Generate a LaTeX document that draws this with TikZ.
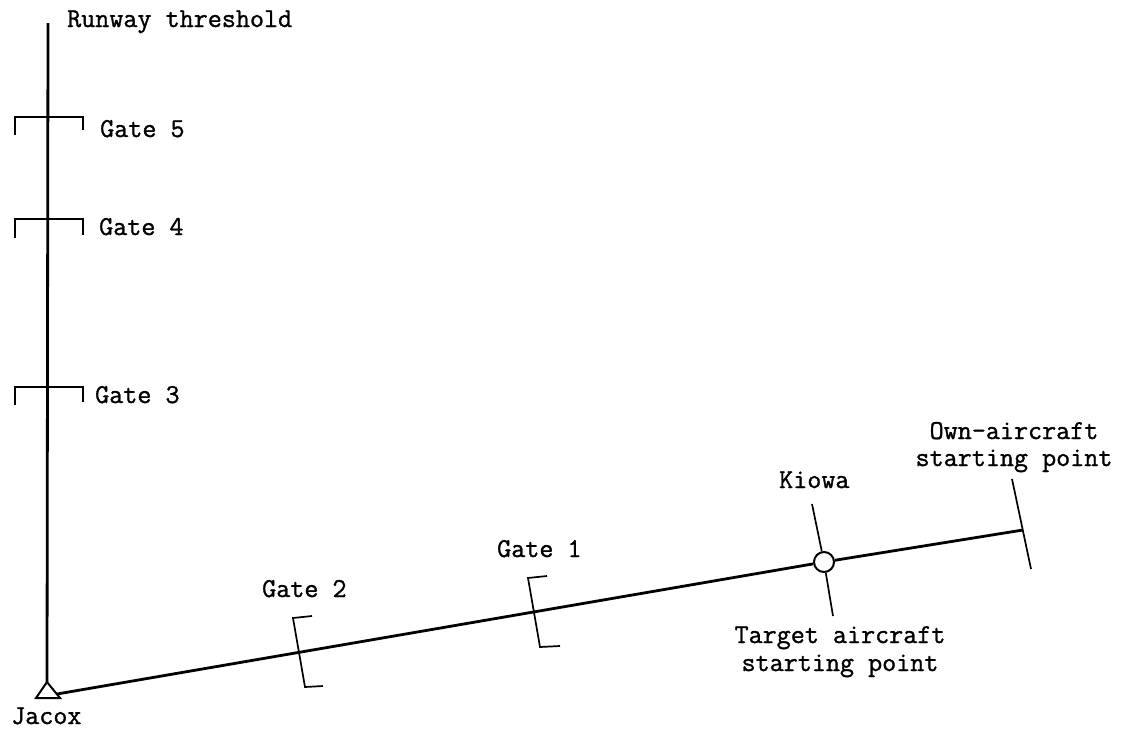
\documentclass[tikz,border=0pt]{standalone}
\usepackage{fontspec}
\newfontfamily\typer{Latin Modern Mono}[FakeBold=1.2]
\begin{document}
\begin{tikzpicture}[x=1pt,y=-1pt,
  route/.style={line width=2.8pt},
  gatemark/.style={line width=1.7pt},
  lbl/.style={font=\fontsize{27.3}{27.5}\selectfont\typer, inner sep=0pt},
  ]
\useasboundingbox (0,0) rectangle (1122,729);

% key points
\coordinate (thr) at (48,23);
\coordinate (apex) at (47,682);
\coordinate (jacoxR) at (57,694);
\coordinate (own) at (1023,530);
\node[draw, circle, line width=2pt, fill=white, minimum size=20pt, inner sep=0pt] (kiowa) at (824,562) {};

% runway approach (vertical) and the route from Jacox
\draw[route] (thr) -- (apex);
\draw[route] (jacoxR) -- (kiowa);
\draw[route] (kiowa) -- (own);

% Jacox triangle
\draw[line width=2pt, fill=white, line join=miter] (apex) -- (36,698) -- (60,698) -- cycle;

% gates on the runway approach
\draw[gatemark] (15,135) -- (15,117) -- (83,117) -- (83,130);
\draw[gatemark] (15,238) -- (15,219) -- (83,219) -- (83,235);
\draw[gatemark] (15,405) -- (15,387) -- (83,387) -- (83,402);

% gates on the route
\draw[gatemark] (312,616) -- (293,618) -- (305,687) -- (323,686);
\draw[gatemark] (547,576) -- (528,578) -- (540,647) -- (560,646);

% Kiowa tick
\coordinate (kt) at (812,504);
\coordinate (kb) at (833,616);
\draw[gatemark] (kt) -- (kiowa);
\draw[gatemark] (kiowa) -- (kb);

% own-aircraft starting point tick
\coordinate (ot) at (1012,479);
\coordinate (ob) at (1031,569);
\draw[gatemark] (ot) -- (ob);

% labels
\node[lbl, anchor=base west] (lthr) at (67,27) {Runway threshold};
\node[lbl, anchor=base west] (lg5) at (100,137) {Gate 5};
\node[lbl, anchor=base west] (lg4) at (99,235) {Gate 4};
\node[lbl, anchor=base west] (lg3) at (95,403) {Gate 3};
\node[lbl, anchor=base west] (lg2) at (262,597) {Gate 2};
\node[lbl, anchor=base west] (lg1) at (497,557) {Gate 1};
\node[lbl, anchor=base west] (lkw) at (779,488) {Kiowa};
\node[lbl, anchor=base west] (ljx) at (11,724) {Jacox};
\node[lbl, anchor=base] (lown1) at (1014,439) {Own-aircraft};
\node[lbl, anchor=base] (lown2) at (1014,466) {starting point};
\node[lbl, anchor=base] (ltgt1) at (840,643) {Target aircraft};
\node[lbl, anchor=base] (ltgt2) at (840,671) {starting point};
\end{tikzpicture}
\end{document}
